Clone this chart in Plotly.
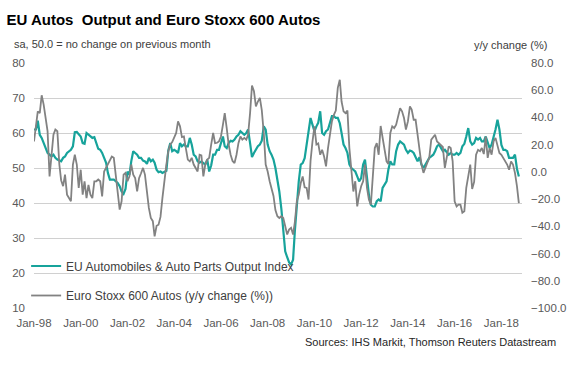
import pandas as pd
import plotly.graph_objects as go

start_month = "1998-01-01"
n_months = 250

output_index = [
    61, 61, 63.5, 59.5, 58.6, 57.1, 56.2, 54.3, 53.8, 53.3,
    53.8, 52.9, 52.4, 52.2, 51.9, 52.9, 53.3, 54.3, 54.8, 55.2,
    56.2, 60.2, 60.3, 59.5, 59, 57.1, 56.9, 60, 59.5, 59,
    58.6, 58.8, 57.1, 55.5, 55.2, 54.3, 52.9, 51.5, 48.6, 46.7,
    46.7, 46.7, 46.2, 45.7, 44.8, 43.3, 42.6, 44, 49, 48.1,
    51.9, 54.8, 54.3, 53.8, 52.9, 52.9, 52.1, 51.9, 51.2, 52.9,
    51.9, 52.4, 51.5, 49.5, 48.8, 49, 48.6, 49, 49.2, 55,
    57.1, 54.8, 55.2, 54.8, 54.3, 57.1, 56.2, 56.7, 56.2, 56.2,
    58.6, 56.7, 53.8, 53.3, 51.9, 51.5, 51.9, 51.4, 51, 52.4,
    49, 50.7, 53.8, 53.8, 55.2, 55.2, 56.9, 59, 56.2, 55.7,
    57.1, 57.8, 57.6, 58.1, 59, 59.5, 60.5, 60, 59.5, 60,
    61, 57.1, 53.1, 54.3, 55.2, 56.2, 56.7, 57.8, 61.9, 61,
    56.7, 54.8, 53.8, 52.4, 50, 47.1, 43.3, 38.5, 31.5, 26.2,
    24.5, 23, 22.4, 23.8, 32, 40.5, 46.2, 51, 51.4, 52.8,
    57.1, 60.5, 64.3, 62.4, 60.5, 61.9, 62.9, 66.2, 60, 59.5,
    60.5, 61, 63.3, 64.8, 64.8, 64.3, 64.3, 62.8, 60, 56.7,
    55.7, 54.3, 51, 50, 49.5, 49, 47.6, 46.2, 47.1, 51,
    52.4, 47.1, 42.4, 39.5, 39, 39, 40.5, 41, 40.5, 44.3,
    45.2, 46.2, 49.5, 51.9, 51, 51, 54.8, 56.7, 57.6, 57.1,
    56.7, 55.2, 54.3, 55, 54.8, 54.3, 52.9, 51.9, 53.1, 51,
    50, 51, 51.9, 52.9, 53.3, 53.8, 54.8, 56.2, 56.7, 55.7,
    54.8, 55.2, 54.3, 53.8, 54.3, 53.8, 53.8, 54.3, 53.8, 54.3,
    56.2, 56.9, 59, 61.4, 57.6, 56.7, 57.1, 58.6, 58.1, 58.6,
    57.6, 57.6, 59, 57.1, 55.7, 56.7, 58.6, 61, 63.8, 61,
    56.6, 55.2, 55.2, 54.8, 52.9, 52.9, 52.9, 53.8, 49.8, 47.6,
]

stoxx_yoy = [
    22.4, 34.0, 44.5, 43.2, 56.3, 49.4, 38.9, 29.9, -3.3, 15.2,
    27.3, 31.1, 29.9, 5.4, -6.1, -10.5, -2.0, -16.7, -19.3, -21.6,
    5.4, 12.6, 5.4, -11.8, 1.6, -16.7, -6.9, -19.3, -9.5, -16.7,
    -19.3, -6.9, -6.9, -5.6, -6.9, -18.0, 0.3, 2.9, 5.4, 7.7,
    11.3, 10.3, -2.0, -16.7, -27.7, -21.6, -2.0, -0.7, -6.9, -3.3,
    5.4, -2.0, -4.6, -14.4, -4.6, -1.0, 2.9, -2.0, -14.4, -26.5,
    -33.9, -36.2, -47.3, -39.6, -38.8, -33.1, -19.3, -4.6, 5.4, 15.2,
    20.1, 21.9, 25.0, 28.6, 37.1, 33.5, 25.5, 26.0, 17.5, 9.0,
    7.7, 10.3, 5.4, 2.9, 0.3, 12.6, 12.1, -3.3, 5.4, 9.0,
    10.3, 20.1, 28.6, 21.1, 21.4, 22.4, 26.0, 34.7, 43.2, 32.2,
    20.1, 12.6, 8.0, 6.5, 12.6, 21.1, 26.0, 23.7, 25.0, 23.7,
    27.3, 43.2, 63.5, 59.2, 48.1, 51.7, 54.3, 45.3, 28.6, 5.4,
    0.3, -6.9, -11.3, -17.7, -28.0, -32.6, -33.9, -32.6, -33.9, -41.1,
    -46.0, -42.4, -41.1, -46.0, -37.0, -21.6, -16.7, -8.2, -3.3, -11.3,
    -11.8, -20.3, 8.0, 22.1, 33.5, 20.1, 20.9, 12.6, 16.2, 11.3,
    4.1, 17.5, 28.6, 37.1, 41.9, 45.0, 61.7, 67.7, 51.7, 44.5,
    43.2, 45.0, 17.5, -2.0, -14.4, -6.9, -25.4, -16.7, -10.5, -6.9,
    5.4, -11.8, -20.3, -24.1, -6.9, 17.5, 21.1, 12.6, 33.7, 25.0,
    16.2, 7.7, 5.9, 28.6, 33.5, 32.2, 34.7, 40.9, 46.8, 44.5,
    39.6, 31.1, 37.1, 48.1, 45.8, 38.3, 38.3, 27.3, 16.2, 5.4,
    -0.7, 2.9, 7.7, 10.6, 23.7, 26.0, 27.3, 22.4, 21.1, 19.1,
    18.3, 2.9, 12.6, 18.8, 17.5, 8.0, -21.6, -25.4, -24.1, -24.1,
    -30.0, -29.0, -11.8, -4.6, 5.4, -12.6, -7.4, 12.6, 16.2, 15.2,
    17.5, 13.1, 26.0, 10.3, 17.5, 12.6, 22.4, 25.0, 18.8, 13.9,
    12.6, 10.3, 8.5, 5.4, 1.6, 7.7, 5.4, -0.7, -10.5, -22.9,
]

left_ticks = [10, 20, 30, 40, 50, 60, 70, 80]
right_ticks = [-100, -80, -60, -40, -20, 0, 20, 40, 60, 80]

dates = pd.date_range(start_month, periods=n_months, freq="MS")

FONT = "Arial, 'Liberation Sans', sans-serif"
TEAL = "#17a39b"
GREY = "#828282"
TXT = "#595959"
GRID = "#d0d0d0"

fig = go.Figure()
fig.add_trace(go.Scatter(
    x=dates, y=output_index, mode="lines",
    name="EU Automobiles & Auto Parts Output Index",
    line=dict(color=TEAL, width=2.2), legend="legend",
))
fig.add_trace(go.Scatter(
    x=dates, y=stoxx_yoy, mode="lines", yaxis="y2",
    name="Euro Stoxx 600 Autos (y/y change (%))",
    line=dict(color=GREY, width=1.8), legend="legend2",
))

W, H = 579, 368
ml, mr, mt, mb = 33, 51, 63, 60
pw, ph = W - ml - mr, H - mt - mb

def px(xp):
    return (xp - ml) / pw

def py(yp):
    return (H - mb - yp) / ph

fig.update_layout(
    width=W, height=H,
    margin=dict(l=ml, r=mr, t=mt, b=mb),
    paper_bgcolor="white", plot_bgcolor="white",
    font=dict(family=FONT, size=11, color=TXT),
    title=dict(
        text="<b>EU Autos  Output and Euro Stoxx 600 Autos</b>",
        font=dict(family=FONT, size=15, color="#000000"),
        xref="container", yref="container",
        x=6.5 / W, xanchor="left", y=1 - 20 / H, yanchor="middle",
    ),
    xaxis=dict(
        type="date", range=["1998-01-01", "2018-11-19"],
        tick0="1998-01-01", dtick="M24", tickformat="%b-%y",
        showgrid=False, zeroline=False, showline=False, ticks="",
        tickfont=dict(size=11.5, color=TXT), ticklabelstandoff=6,
    ),
    yaxis=dict(
        range=[10, 80], tickvals=left_ticks,
        showgrid=True, gridcolor=GRID, gridwidth=1,
        zeroline=False, showline=False, ticks="",
        tickfont=dict(size=11.5, color=TXT), ticklabelstandoff=8,
        layer="below traces",
    ),
    yaxis2=dict(
        range=[-100, 80], tickvals=right_ticks, tickformat=".1f",
        overlaying="y", side="right", showgrid=False,
        zeroline=False, showline=False, ticks="",
        tickfont=dict(size=11.5, color=TXT), ticklabelstandoff=8,
    ),
    legend=dict(
        x=px(25), xanchor="left", y=py(266), yanchor="middle",
        bgcolor="rgba(0,0,0,0)", font=dict(size=12, color="#404040"),
    ),
    legend2=dict(
        x=px(25), xanchor="left", y=py(295.5), yanchor="middle",
        bgcolor="rgba(0,0,0,0)", font=dict(size=12, color="#404040"),
    ),
    showlegend=True,
    annotations=[
        dict(text="sa, 50.0 = no change on previous month",
             xref="paper", yref="paper", x=px(11), y=py(44),
             xanchor="left", yanchor="middle", showarrow=False,
             font=dict(size=11, color="#404040")),
        dict(text="y/y change (%)",
             xref="paper", yref="paper", x=px(555), y=py(45),
             xanchor="right", yanchor="middle", showarrow=False,
             font=dict(size=11, color="#404040")),
        dict(text="Sources: IHS Markit, Thomson Reuters Datastream",
             xref="paper", yref="paper", x=px(565), y=py(341.5),
             xanchor="right", yanchor="middle", showarrow=False,
             font=dict(size=11, color="#262626")),
    ],
)

fig.write_html(
    "out.html",
    config={"displayModeBar": False},
    post_script="document.body.style.margin='0';document.body.style.padding='0';",
)
